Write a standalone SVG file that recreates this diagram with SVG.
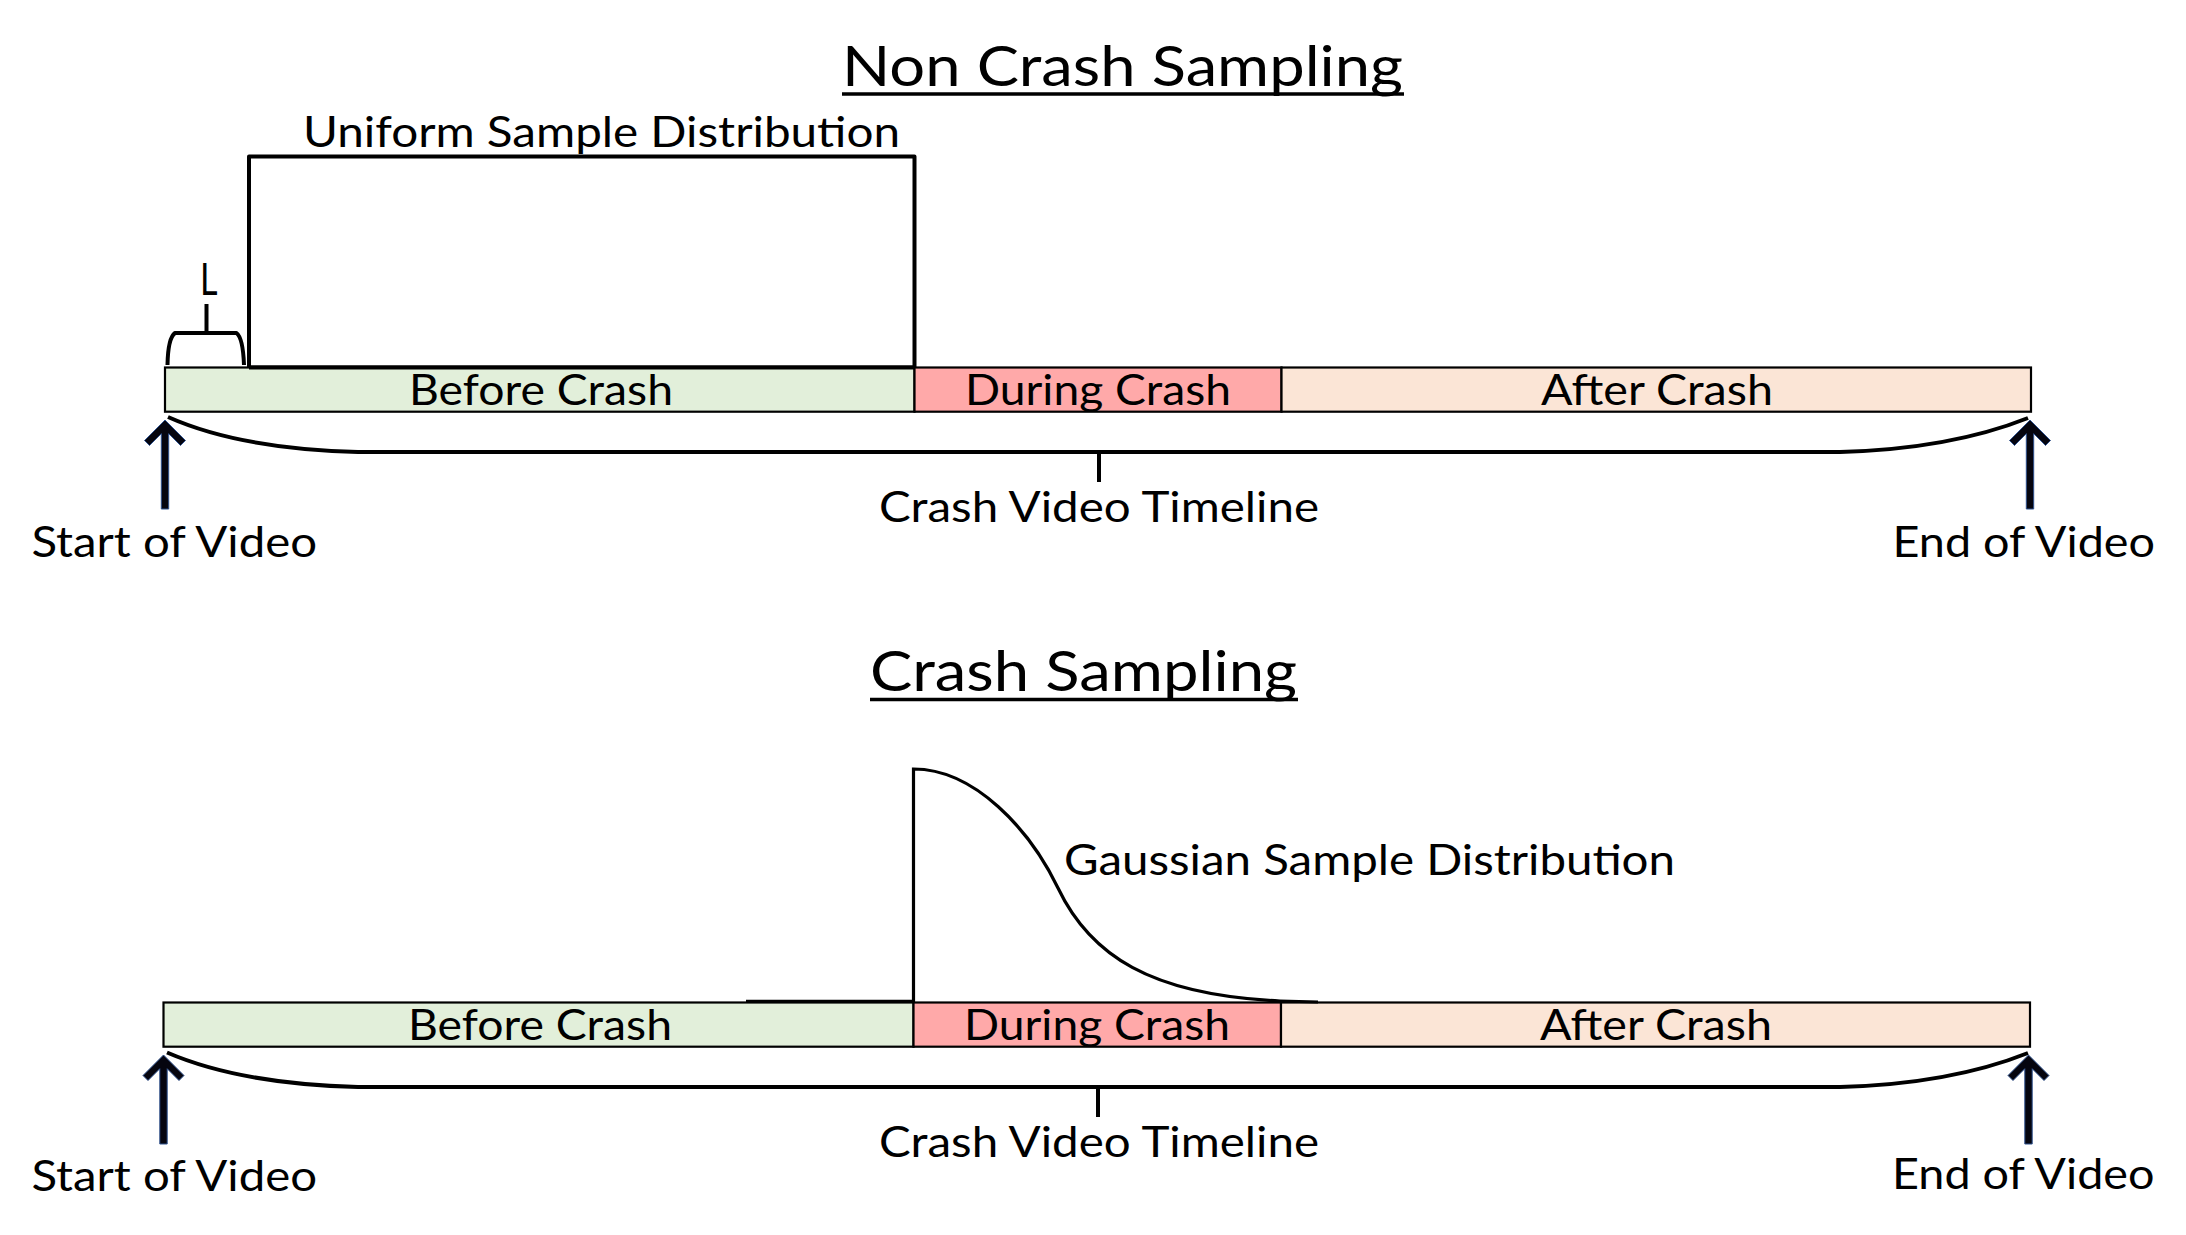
<svg xmlns="http://www.w3.org/2000/svg" width="2186" height="1235" viewBox="0 0 2186 1235">
<style>
text{font-family:Lato,"Open Sans","Liberation Sans",sans-serif;font-size:42px;fill:#000}
.title{font-size:57px}
.seg{stroke:#000;stroke-width:2.2}
.before{fill:#E2EFDA}
.during{fill:#FFA9A9}
.after{fill:#FBE5D6}
.line{fill:none;stroke:#000;stroke-width:4;stroke-linejoin:round;stroke-linecap:butt}
.thin{fill:none;stroke:#000;stroke-width:3.2}
.arrow{fill:#05050f;stroke:#2F528F;stroke-width:1}
</style>
<defs>
<path id="arr" d="M0,0 L20.5,20.5 L15.5,25.5 L3.7,13.7 L3.7,89 L-3.7,89 L-3.7,13.7 L-15.5,25.5 L-20.5,20.5 Z"/>
</defs>
<rect width="2186" height="1235" fill="#fff"/>

<!-- ===== Non Crash Sampling ===== -->
<g id="title-noncrash">
<text class="title" x="842" y="86" textLength="561" lengthAdjust="spacingAndGlyphs">Non Crash Sampling</text>
<line x1="842" y1="94" x2="1404" y2="94" stroke="#000" stroke-width="3.5"/>
</g>

<g id="uniform-dist">
<path class="line" d="M249,367.5 L249,156.5 L914.5,156.5 L914.5,367.5 Z"/>
<text x="303" y="147" textLength="597" lengthAdjust="spacingAndGlyphs">Uniform Sample Distribution</text>
</g>

<g id="L-bracket">
<path class="line" d="M167.5,365 Q168,338 175,333 L236.5,333 Q243,338 244,365"/>
<line class="line" x1="206.5" y1="333" x2="206.5" y2="304"/>
<text x="200" y="295" style="font-size:45px" textLength="17.5" lengthAdjust="spacingAndGlyphs">L</text>
</g>

<g id="top-before">
<rect class="seg before" x="165" y="367.5" width="749.5" height="44.2"/>
<text x="409" y="405" textLength="264" lengthAdjust="spacingAndGlyphs">Before Crash</text>
</g>
<g id="top-during">
<rect class="seg during" x="914.5" y="367.5" width="367" height="44.2"/>
<text x="965" y="405" textLength="266" lengthAdjust="spacingAndGlyphs">During Crash</text>
</g>
<g id="top-after">
<rect class="seg after" x="1281.5" y="367.5" width="749.5" height="44.2"/>
<text x="1541" y="405" textLength="232" lengthAdjust="spacingAndGlyphs">After Crash</text>
</g>
<line x1="249" y1="367.5" x2="914.5" y2="367.5" stroke="#000" stroke-width="4"/>

<g id="top-timeline">
<text x="879" y="522" textLength="440" lengthAdjust="spacingAndGlyphs">Crash Video Timeline</text>
</g>
<g id="top-start">
<text x="31.5" y="557" textLength="285.5" lengthAdjust="spacingAndGlyphs">Start of Video</text>
</g>
<g id="top-end">
<text x="1892.5" y="557" textLength="262.5" lengthAdjust="spacingAndGlyphs">End of Video</text>
</g>

<!-- ===== Crash Sampling ===== -->
<g id="title-crash">
<text class="title" x="870" y="690.5" textLength="427" lengthAdjust="spacingAndGlyphs">Crash Sampling</text>
<line x1="870" y1="699.5" x2="1298" y2="699.5" stroke="#000" stroke-width="3.5"/>
</g>

<g id="bot-before">
<rect class="seg before" x="163.5" y="1002.5" width="750" height="44.2"/>
<text x="408" y="1039.7" textLength="264" lengthAdjust="spacingAndGlyphs">Before Crash</text>
</g>
<g id="bot-during">
<rect class="seg during" x="913.5" y="1002.5" width="367.5" height="44.2"/>
<text x="964" y="1039.7" textLength="266" lengthAdjust="spacingAndGlyphs">During Crash</text>
</g>
<g id="bot-after">
<rect class="seg after" x="1281" y="1002.5" width="749" height="44.2"/>
<text x="1540" y="1039.7" textLength="232" lengthAdjust="spacingAndGlyphs">After Crash</text>
</g>

<g id="gaussian-dist">
<line x1="746" y1="1001" x2="913.5" y2="1001" stroke="#000" stroke-width="2.5"/>
<path class="thin" d="M913.5,1002 L913.5,769 C975,769 1030,830 1058,888 C1090,955 1150,995 1280,1001 L1318,1002"/>
<text x="1064" y="875" textLength="611" lengthAdjust="spacingAndGlyphs">Gaussian Sample Distribution</text>
</g>

<g id="bot-timeline">
<text x="879" y="1157.3" textLength="440" lengthAdjust="spacingAndGlyphs">Crash Video Timeline</text>
</g>
<g id="bot-start">
<text x="31.5" y="1190.5" textLength="285.5" lengthAdjust="spacingAndGlyphs">Start of Video</text>
</g>
<g id="bot-end">
<text x="1892" y="1189" textLength="262.5" lengthAdjust="spacingAndGlyphs">End of Video</text>
</g>

<!-- ===== connectors ===== -->
<g id="connectors">
<path class="line" d="M168,417 Q240,449 358,452 L1840,452 Q1950,449 2028,418"/>
<line class="line" x1="1099" y1="452" x2="1099" y2="482"/>
<use href="#arr" class="arrow" x="165" y="420"/>
<use href="#arr" class="arrow" x="2030" y="420"/>

<path class="line" d="M167,1052.5 Q240,1084 358,1087 L1840,1087 Q1950,1084 2028,1053"/>
<line class="line" x1="1098" y1="1087" x2="1098" y2="1117"/>
<use href="#arr" class="arrow" x="163.5" y="1055"/>
<use href="#arr" class="arrow" x="2028.5" y="1055"/>
</g>
</svg>
